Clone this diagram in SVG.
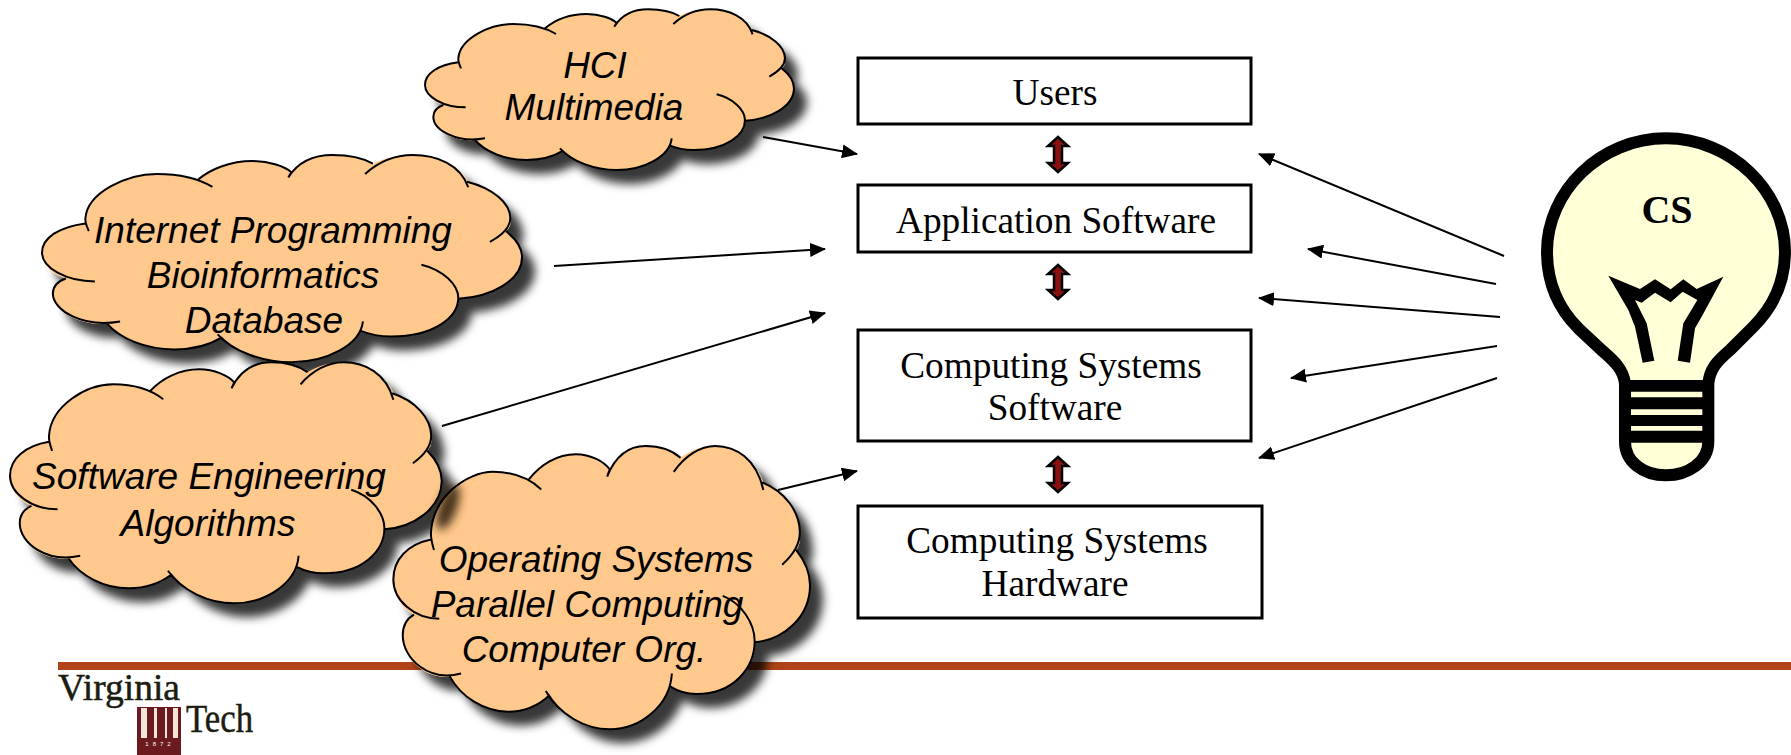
<svg xmlns="http://www.w3.org/2000/svg" width="1791" height="755" viewBox="0 0 1791 755">
<style>
.box{fill:#fff;stroke:#000;stroke-width:3}
.t{font-family:"Liberation Serif","Times New Roman",serif;font-size:37.3px;text-anchor:middle;fill:#000}
.c{font-family:"Liberation Sans",Arial,sans-serif;font-style:italic;font-size:37px;text-anchor:middle;fill:#000}
.body{fill:#ffc88c}
.lines{fill:none;stroke:#000;stroke-width:2;vector-effect:non-scaling-stroke}
.arr{stroke:#000;stroke-width:2;fill:none;marker-end:url(#ah)}
.dbl{fill:#8b1010;stroke:#000;stroke-width:2.5}
.lt{font-family:"Liberation Serif","Times New Roman",serif;fill:#1c1c12;stroke:#1c1c12;stroke-width:.5}
</style>
<defs>
<marker id="ah" markerUnits="userSpaceOnUse" markerWidth="16" markerHeight="14" refX="15" refY="7" orient="auto"><path d="M0,0L16,7L0,14Z" fill="#000"/></marker>
<filter id="sh" x="-10%" y="-10%" width="130%" height="135%"><feDropShadow dx="13" dy="14" stdDeviation="5" flood-color="#000" flood-opacity=".78"/></filter>
<filter id="bl" x="-60%" y="-60%" width="220%" height="220%"><feGaussianBlur stdDeviation="5"/></filter>
<path id="cb" d="M175,185C178,115 270,72 340,72C375,72 410,78 435,85C465,60 510,42 560,42C595,42 625,55 650,68C670,45 700,28 745,28C780,28 815,35 838,48C865,35 895,28 930,28C985,28 1040,55 1058,90C1115,105 1155,140 1155,185C1155,195 1150,200 1145,205C1170,225 1182,245 1182,265C1182,320 1110,358 1035,362C1040,400 980,450 880,450C855,450 830,445 810,437C785,480 720,510 650,510C585,510 525,485 490,450C460,470 420,480 380,480C315,480 255,455 225,420C160,425 100,390 100,350C100,335 110,322 130,315C100,305 75,285 75,255C75,220 115,195 175,187Z"/>
<path id="cl" class="lines" d="M183,205C176,190 174,185 175,175C180,115 270,72 340,72C390,72 435,82 468,102M435,85C465,60 510,42 560,42C600,42 635,55 650,68L643,80M643,80C665,45 700,28 745,28C780,28 815,35 838,48M820,72C850,45 890,28 930,28C985,28 1040,50 1058,103M1055,90C1115,105 1155,140 1155,175C1155,195 1135,215 1108,230M1145,205C1170,225 1182,245 1182,265C1182,320 1110,358 1035,362M950,283C1000,295 1035,330 1035,360C1035,405 980,450 880,450C855,450 830,445 810,437M815,415C810,470 730,510 650,510C585,510 515,485 480,445M490,452C460,470 420,480 380,480C315,480 255,455 225,420M255,415C170,430 100,390 100,350C100,335 110,322 130,315M197,322C130,322 75,290 75,255C75,220 115,195 175,187"/>
</defs>
<rect width="1791" height="755" fill="#fff"/>
<rect id="rule" x="58" y="662" width="1733" height="8" fill="#b04418"/>
<g id="connectors">
<path class="arr" d="M763,137L857,154"/>
<path class="arr" d="M554,266L825,249"/>
<path class="arr" d="M442,426L825,313"/>
<path class="arr" d="M778,490L857,471"/>
<path class="arr" d="M1504,256L1259,154"/>
<path class="arr" d="M1496,284L1308,249"/>
<path class="arr" d="M1500,317L1259,298"/>
<path class="arr" d="M1497,346L1291,378"/>
<path class="arr" d="M1497,378L1259,458"/>
<path id="d1" class="dbl" d="M1058,137L1068,146H1062V163H1068L1058,172L1048,163H1054V146H1048Z"/>
<path id="d2" class="dbl" d="M1058,265L1068,274H1062V290H1068L1058,299L1048,290H1054V274H1048Z"/>
<path id="d3" class="dbl" d="M1058,457L1068,466H1062V483H1068L1058,492L1048,483H1054V466H1048Z"/>
</g>
<g id="cloud-hci">
<g filter="url(#sh)"><use href="#cb" class="body" transform="translate(400,0) scale(.3333)"/></g>
<use href="#cl" transform="translate(400,0) scale(.3333)"/>
<text class="c" x="595" y="78">HCI</text><text class="c" x="594" y="120">Multimedia</text>
</g>
<g id="cloud-internet">
<g filter="url(#sh)"><use href="#cb" class="body" transform="translate(9.5,143) scale(.4336,.43)"/></g>
<use href="#cl" transform="translate(9.5,143) scale(.4336,.43)"/>
<text class="c" x="273" y="243">Internet Programming</text><text class="c" x="263" y="288">Bioinformatics</text><text class="c" x="264" y="333">Database</text>
</g>
<g id="cloud-software">
<g filter="url(#sh)"><use href="#cb" class="body" transform="translate(-19.25,348.3) scale(.39,.5)"/></g>
<use href="#cl" transform="translate(-19.25,348.3) scale(.39,.5)"/>
<text class="c" x="209" y="489">Software Engineering</text><text class="c" x="208" y="536">Algorithms</text>
</g>
<g id="cloud-os">
<g filter="url(#sh)"><use href="#cb" class="body" transform="translate(365.1,429.5) scale(.3764,.5878)"/></g>
<ellipse cx="448" cy="507" rx="9" ry="24" fill="#32230f" opacity=".9" filter="url(#bl)" transform="rotate(20 448 507)"/>
<use href="#cl" transform="translate(365.1,429.5) scale(.3764,.5878)"/>
<text class="c" x="596" y="572">Operating Systems</text><text class="c" x="587" y="617">Parallel Computing</text><text class="c" x="584" y="662">Computer Org.</text>
</g>
<g id="users"><rect class="box" x="858" y="58" width="393" height="66"/><text class="t" x="1055" y="105">Users</text></g>
<g id="application"><rect class="box" x="858" y="185" width="393" height="67"/><text class="t" x="1056" y="233">Application Software</text></g>
<g id="systems-software"><rect class="box" x="858" y="330" width="393" height="111"/><text class="t" x="1051" y="378">Computing Systems</text><text class="t" x="1055" y="420">Software</text></g>
<g id="systems-hardware"><rect class="box" x="858" y="506" width="404" height="112"/><text class="t" x="1057" y="553">Computing Systems</text><text class="t" x="1055" y="596">Hardware</text></g>
<g id="bulb">
<g transform="translate(1500,120) scale(.33333)">
<path d="M375,790C370,750 345,725 310,695L235,625C175,565 141,490 141,395C141,215 300,55 498,55C695,55 855,215 855,395C855,490 815,565 760,620L690,690C650,725 630,745 625,790V965C625,1025 565,1066 498,1066C430,1066 375,1025 375,965Z" fill="#ffffd8" stroke="#000" stroke-width="36"/>
<path d="M375,780H625V815H375ZM375,832H625V868H375ZM375,885H625V918H375ZM375,932H625V968H375Z" fill="#000"/>
<path d="M325,467L420,507L465,478L512,508L550,478L590,507L670,470L605,590L585,625L570,728L533,722L550,610L592,540L548,515L512,547L465,518L425,548L405,540L440,610L463,722L428,728L405,620L385,570Z" fill="#000"/>
</g>
<text x="1667" y="223" text-anchor="middle" font-family="'Liberation Serif',serif" font-weight="bold" font-size="40">CS</text>
</g>
<g id="logo">
<text class="lt" x="58" y="700" font-size="37" textLength="122" lengthAdjust="spacingAndGlyphs">Virginia</text>
<text class="lt" x="186" y="732" font-size="41" textLength="67" lengthAdjust="spacingAndGlyphs">Tech</text>
<path d="M137,707H181V755H137Z" fill="#6b1a1e"/>
<path d="M141,708h6v30h-6ZM154,708h3v30h-3ZM165,708h2v30h-2ZM173,708h5v30h-5Z" fill="#f3e6d8"/>
<text x="160" y="746" text-anchor="middle" font-family="'Liberation Sans',sans-serif" font-size="6" fill="#fff" letter-spacing="4">1872</text>
</g>
</svg>
